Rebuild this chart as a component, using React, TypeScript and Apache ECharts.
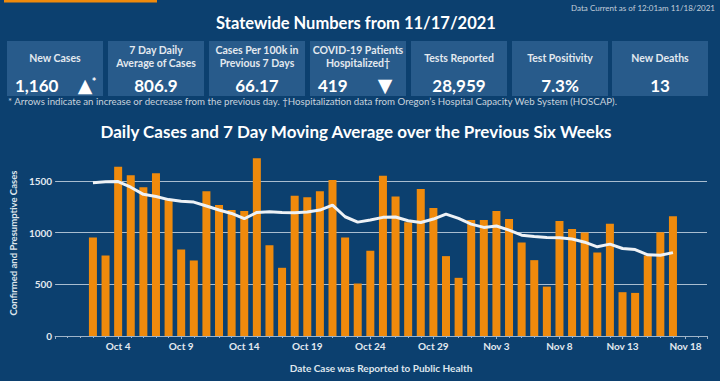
import React, { useEffect, useRef } from "react";
import * as echarts from "echarts";

const dates = [
  "2021-10-02", "2021-10-03", "2021-10-04", "2021-10-05", "2021-10-06", "2021-10-07", "2021-10-08",
  "2021-10-09", "2021-10-10", "2021-10-11", "2021-10-12", "2021-10-13", "2021-10-14", "2021-10-15",
  "2021-10-16", "2021-10-17", "2021-10-18", "2021-10-19", "2021-10-20", "2021-10-21", "2021-10-22",
  "2021-10-23", "2021-10-24", "2021-10-25", "2021-10-26", "2021-10-27", "2021-10-28", "2021-10-29",
  "2021-10-30", "2021-10-31", "2021-11-01", "2021-11-02", "2021-11-03", "2021-11-04", "2021-11-05",
  "2021-11-06", "2021-11-07", "2021-11-08", "2021-11-09", "2021-11-10", "2021-11-11", "2021-11-12",
  "2021-11-13", "2021-11-14", "2021-11-15", "2021-11-16", "2021-11-17",
];

const dailyCases = [
  954, 779, 1639, 1555, 1439, 1575, 1316, 837, 731, 1400,
  1267, 1219, 1209, 1720, 879, 660, 1358, 1342, 1400, 1510,
  954, 508, 824, 1552, 1351, 1100, 1423, 1238, 773, 563,
  1122, 1122, 1209, 1132, 905, 734, 478, 1112, 1035, 1002,
  808, 1086, 424, 417, 779, 1005, 1160,
];

const movingAvg = [
  1484, 1492, 1494, 1440, 1371, 1350, 1320, 1303, 1296, 1258,
  1219, 1186, 1135, 1196, 1203, 1196, 1193, 1199, 1219, 1267,
  1154, 1102, 1122, 1148, 1151, 1115, 1099, 1132, 1180, 1138,
  1083, 1051, 1064, 1025, 976, 963, 954, 951, 938, 908,
  863, 889, 847, 837, 786, 782, 807,
];

const axisStart = "2021-09-29";
const xTickLabels = ["Oct 4", "Oct 9", "Oct 14", "Oct 19", "Oct 24", "Oct 29", "Nov 3", "Nov 8", "Nov 13", "Nov 18"];
const yTicks = [0, 500, 1000, 1500];

const statLabels = [
  ["New Cases"],
  ["7 Day Daily", "Average of Cases"],
  ["Cases Per 100k in", "Previous 7 Days"],
  ["COVID-19 Patients", "Hospitalized†"],
  ["Tests Reported"],
  ["Test Positivity"],
  ["New Deaths"],
];
const statValues = ["1,160", "806.9", "66.17", "419", "28,959", "7.3%", "13"];
const statArrows = ["▲", "", "", "▼", "", "", ""];
const statMarks = ["*", "", "", "", "", "", ""];

const headerTitle = "Statewide Numbers from 11/17/2021";
const dataCurrent = "Data Current as of 12:01am 11/18/2021";
const footnote =
  "* Arrows indicate an increase or decrease from the previous day. †Hospitalization data from Oregon’s Hospital Capacity Web System (HOSCAP).";
const chartTitle = "Daily Cases and 7 Day Moving Average over the Previous Six Weeks";
const yAxisName = "Confirmed and Presumptive Cases";
const xAxisName = "Date Case was Reported to Public Health";

const DAY = 86400000;
const dayIndex = (d: string) => Math.round((Date.parse(d) - Date.parse(axisStart)) / DAY);

const BG = "#0c406f";
const BOX = "#285b8b";
const ORANGE = "#ef8a0c";
const FONT = "Lato, 'Noto Sans', sans-serif";

function txt(text: string, x: number, y: number, size: number, weight: string, fill: string, align = "center", family = FONT) {
  return {
    type: "text",
    silent: true,
    style: {
      text,
      x,
      y,
      font: `${weight} ${size}px ${family}`,
      fill,
      align,
      verticalAlign: "middle",
      textAlign: align,
      textVerticalAlign: "middle",
    },
  };
}

export default function App() {
  const ref = useRef<HTMLDivElement>(null);

  useEffect(() => {
    if (!ref.current) return;
    const chart = echarts.init(ref.current, undefined, { renderer: "svg" });

    const boxX = [7, 108, 209, 310, 411, 512, 612];
    const boxW = 96;
    const graphics: any[] = [
      { type: "rect", silent: true, shape: { x: 4, y: 0, width: 153, height: 2.5 }, style: { fill: ORANGE } },
      txt(dataCurrent, 715, 7.5, 8, "normal", "#c3cfdb", "right"),
      txt(headerTitle, 356, 23, 16.5, "bold", "#ffffff"),
      txt(footnote, 8, 100.5, 9.7, "normal", "#c9d3dd", "left"),
      txt(chartTitle, 356, 131, 17, "bold", "#ffffff"),
    ];
    boxX.forEach((bx, i) => {
      graphics.push({ type: "rect", silent: true, shape: { x: bx, y: 41, width: boxW, height: 55 }, style: { fill: BOX } });
      const lines = statLabels[i];
      if (lines.length === 1) {
        graphics.push(txt(lines[0], bx + boxW / 2, 57.5, 10.5, "bold", "#e3e9ef"));
      } else {
        graphics.push(txt(lines[0], bx + boxW / 2, 50, 10.5, "bold", "#e3e9ef"));
        graphics.push(txt(lines[1], bx + boxW / 2, 62.5, 10.5, "bold", "#e3e9ef"));
      }
      if (statArrows[i]) {
        graphics.push(txt(statValues[i], bx + 8, 85, 17, "bold", "#ffffff", "left"));
        const ax = bx + (i === 0 ? 78 : 75);
        graphics.push(txt(statArrows[i], ax, 85, 19, "bold", "#ffffff", "center", "'DejaVu Sans', sans-serif"));
        if (statMarks[i]) graphics.push(txt(statMarks[i], ax + 9, 81, 11, "bold", "#ffffff", "center"));
      } else {
        graphics.push(txt(statValues[i], bx + boxW / 2, 85, 17, "bold", "#ffffff"));
      }
    });

    const labelFor = (v: number) => {
      if (Math.abs(v - Math.round(v)) > 1e-6 || v % 5 !== 0) return "";
      return xTickLabels[Math.round(v / 5) - 1] ?? "";
    };

    chart.setOption({
      animation: false,
      backgroundColor: BG,
      textStyle: { fontFamily: FONT },
      graphic: graphics,
      grid: { left: 52, right: 13, top: 150, bottom: 45 },
      xAxis: {
        type: "value",
        min: 0,
        max: 51.7,
        interval: 5,
        name: xAxisName,
        nameLocation: "middle",
        nameGap: 27,
        nameTextStyle: { color: "#dfe6ed", fontSize: 10, fontWeight: "bold", fontFamily: FONT },
        axisLine: { show: true, lineStyle: { color: "#9fb4c9", width: 1 } },
        axisTick: { show: true, length: 3, lineStyle: { color: "#9fb4c9" } },
        minorTick: { show: true, splitNumber: 5, length: 2, lineStyle: { color: "#9fb4c9" } },
        splitLine: { show: false },
        axisLabel: {
          color: "#e3e9ef",
          fontSize: 10,
          fontWeight: "bold",
          fontFamily: FONT,
          margin: 5,
          showMinLabel: false,
          showMaxLabel: false,
          formatter: (v: number) => labelFor(v),
        },
      },
      yAxis: {
        type: "value",
        min: 0,
        max: 1800,
        interval: 500,
        name: yAxisName,
        nameLocation: "middle",
        nameRotate: 90,
        nameGap: 33,
        nameTextStyle: { color: "#dfe6ed", fontSize: 9.5, fontWeight: "bold", fontFamily: FONT },
        axisLine: { show: false },
        axisTick: { show: false },
        splitLine: { show: true, showMinLine: false, showMaxLine: false, lineStyle: { color: "#a9bdd0", width: 1 } },
        axisLabel: {
          color: "#e3e9ef",
          fontSize: 10,
          fontWeight: "bold",
          fontFamily: FONT,
          margin: 3,
          showMaxLabel: false,
          formatter: (v: number) => (yTicks.includes(v) ? String(v) : ""),
        },
      },
      series: [
        {
          type: "bar",
          data: dates.map((d, i) => [dayIndex(d), dailyCases[i]]),
          barWidth: 8,
          itemStyle: { color: ORANGE },
          z: 2,
        },
        {
          type: "line",
          data: dates.map((d, i) => [dayIndex(d), movingAvg[i]]),
          showSymbol: false,
          symbol: "none",
          lineStyle: { color: "#eef2f6", width: 3 },
          z: 3,
        },
      ],
    });

    return () => chart.dispose();
  }, []);

  return (
    <div
      ref={ref}
      style={{ position: "fixed", left: 0, top: 0, width: 720, height: 381 }}
    />
  );
}
